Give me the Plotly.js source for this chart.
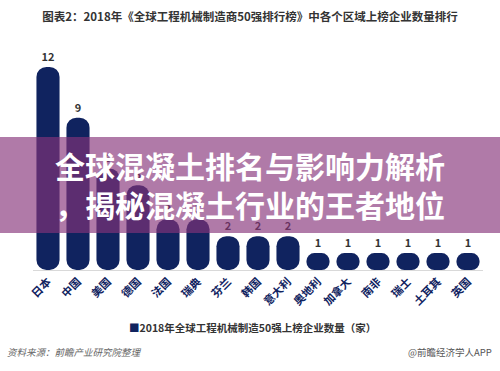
<!DOCTYPE html>
<html>
<head>
<meta charset="utf-8">
<script src="https://cdn.plot.ly/plotly-3.0.1.min.js"></script>
<style>
html,body{margin:0;padding:0;background:#fff;}
#chart{width:500px;height:371px;}
</style>
</head>
<body>
<div id="chart"></div>
<script>
const categories = ['日本','中国','美国','德国','法国','瑞典','芬兰','韩国','意大利','奥地利','加拿大','南非','瑞士','土耳其','英国'];
const counts = [12, 9, 6, 5, 3, 3, 2, 2, 2, 1, 1, 1, 1, 1, 1];
const seriesName = '2018年全球工程机械制造50强上榜企业数量（家）';
const chartTitle = '图表2：2018年《全球工程机械制造商50强排行榜》中各个区域上榜企业数量排行';
const overlayText = '全球混凝土排名与影响力解析<br>，揭秘混凝土行业的王者地位';
const sourceText = '资料来源：前瞻产业研究院整理';
const brandText = '@前瞻经济学人APP';

const barColor = '#10235f';
const cjk = '"Noto Sans CJK SC", "Microsoft YaHei", sans-serif';

// a tiny non-zero base makes Plotly round both ends of each bar (pill shape)
const bars = {
  type: 'bar', x: categories, y: counts, base: 0.001,
  text: counts.map(String), textposition: 'outside',
  textfont: {family: cjk, size: 11, color: '#333', weight: 'bold'},
  cliponaxis: false,
  marker: {color: barColor, cornerradius: '45%'},
  name: seriesName, showlegend: false
};

const L = 33, T = 50, W = 450, H = 220;
const px = x => (x - L) / W;
const py = y => (T + H - y) / H;

const layout = {
  width: 500, height: 371,
  margin: {l: L, r: 500 - L - W, t: T, b: 371 - T - H},
  paper_bgcolor: '#fff', plot_bgcolor: '#fff',
  bargap: 0.23,
  font: {family: cjk},
  title: {text: '<b>' + chartTitle + '</b>', x: 0.5, xref: 'container', xanchor: 'center',
          y: 1 - 17 / 371, yref: 'container', yanchor: 'middle',
          font: {family: cjk, size: 11.5, color: '#333'}},
  xaxis: {type: 'category', tickangle: -45, showgrid: false, showline: true,
          linecolor: '#d9d9d9', linewidth: 1, ticks: '', zeroline: false,
          tickfont: {family: cjk, size: 11, color: barColor, weight: 'bold'}},
  yaxis: {range: [0, 13], visible: false, fixedrange: true},
  shapes: [
    {type: 'rect', xref: 'paper', yref: 'paper', x0: px(0), x1: px(500), y0: py(233), y1: py(137),
     fillcolor: 'rgba(134,51,121,0.65)', line: {width: 0}, layer: 'above'}
  ],
  annotations: [
    {text: '<b>' + overlayText + '</b>', xref: 'paper', yref: 'paper', x: px(250), y: py(184),
     xanchor: 'center', yanchor: 'middle', showarrow: false, align: 'left',
     font: {family: cjk, size: 30, color: '#fff'}},
    {text: '<span style="color:' + barColor + '">■</span><b>' + seriesName + '</b>', xref: 'paper', yref: 'paper',
     x: px(252), y: py(327), xanchor: 'center', yanchor: 'middle', showarrow: false,
     font: {family: cjk, size: 10.5, color: '#333'}},
    {text: '<i>' + sourceText + '</i>', xref: 'paper', yref: 'paper', x: px(5), y: py(352),
     xanchor: 'left', yanchor: 'middle', showarrow: false,
     font: {family: cjk, size: 9.5, color: '#666'}},
    {text: brandText, xref: 'paper', yref: 'paper', x: px(494), y: py(352),
     xanchor: 'right', yanchor: 'middle', showarrow: false,
     font: {family: cjk, size: 9.5, color: '#555'}}
  ]
};

Plotly.newPlot('chart', [bars], layout, {displayModeBar: false, staticPlot: true});
</script>
</body>
</html>
